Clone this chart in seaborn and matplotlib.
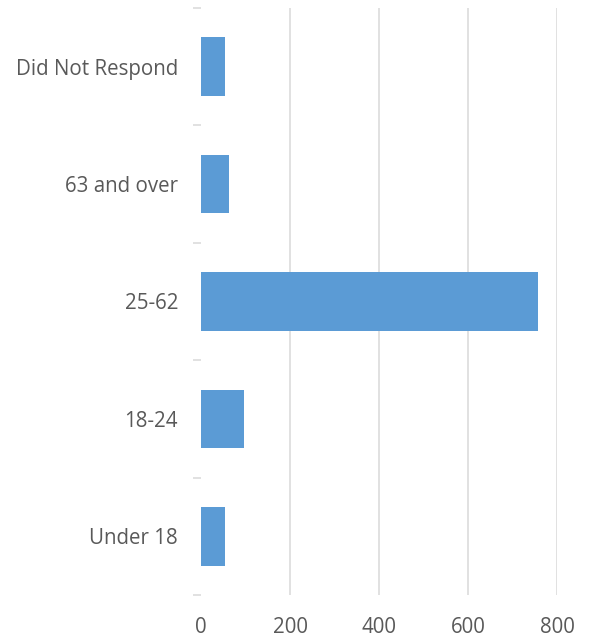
import matplotlib
matplotlib.use("Agg")
import matplotlib.pyplot as plt
import seaborn as sns
import pandas as pd
import numpy as np

categories = ["Did Not Respond", "63 and over", "25-62", "18-24", "Under 18"]
values = [54, 62, 757, 96, 54]
x_ticks = [0, 200, 400, 600, 800]

sns.set_style("white")
plt.rcParams["font.family"] = ["Open Sans", "DejaVu Sans"]

df = pd.DataFrame({"category": categories, "value": values})

fig = plt.figure(figsize=(5.89, 6.39), dpi=100)
ax = fig.add_axes([201/589, 1-595/639, (557-201)/589, (595-8)/639])

sns.barplot(data=df, y="category", x="value", orient="h", color="#5B9BD5",
            saturation=1, width=0.5, ax=ax, zorder=3, linewidth=0)

ax.set_xlim(0, 800)
ax.set_ylim(len(categories)-0.5, -0.5)
ax.set_xticks(x_ticks)
ax.set_xticklabels([str(t) for t in x_ticks])
for t in x_ticks[1:]:
    ax.axvline(t, color="#d9d9d9", lw=1.1, zorder=1)
ax.grid(False)

ax.set_yticks(np.arange(-0.5, len(categories), 1.0), minor=True)
ax.tick_params(axis="y", which="minor", length=6, width=1.1, color="#d9d9d9", left=True)
ax.tick_params(axis="y", which="major", length=0, pad=16.5, labelsize=14.8, labelcolor="#595959")
ax.tick_params(axis="x", which="major", length=0, pad=16, labelsize=14.8, labelcolor="#595959")

for s in ax.spines.values():
    s.set_visible(False)
ax.set_xlabel("")
ax.set_ylabel("")

fig.savefig("out.png", dpi=100)
